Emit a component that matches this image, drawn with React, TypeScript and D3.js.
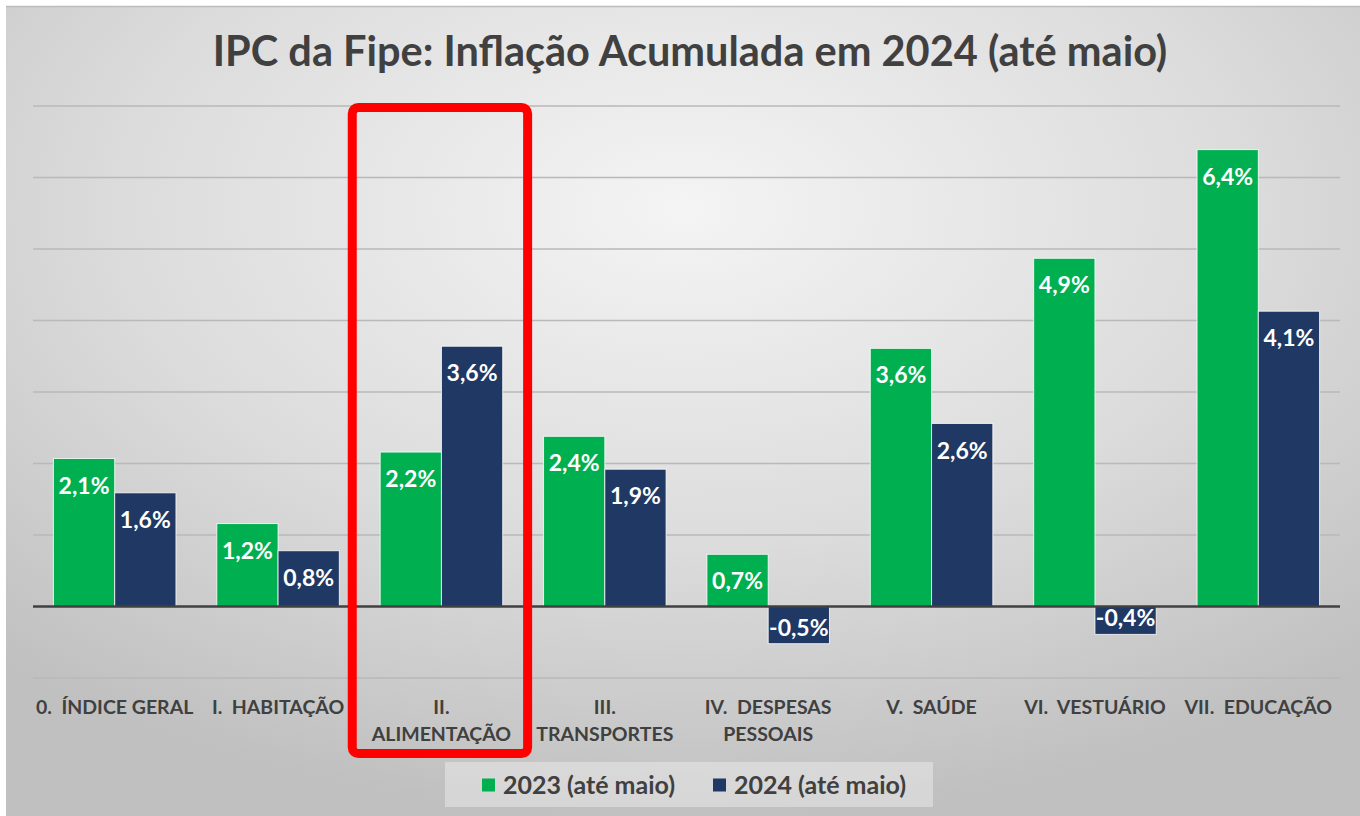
import React, { useEffect, useRef } from 'react';
import * as d3 from 'd3';

const categories = [
  '0.  ÍNDICE GERAL',
  'I.  HABITAÇÃO',
  'II.|ALIMENTAÇÃO',
  'III.|TRANSPORTES',
  'IV.  DESPESAS|PESSOAIS',
  'V.  SAÚDE',
  'VI.  VESTUÁRIO',
  'VII.  EDUCAÇÃO',
];
const seriesNames = ['2023 (até maio)', '2024 (até maio)'];
const values2023 = [2.07, 1.16, 2.16, 2.38, 0.73, 3.61, 4.87, 6.39];
const values2024 = [1.59, 0.78, 3.64, 1.92, -0.52, 2.56, -0.39, 4.13];
const yTicks = [-1, 0, 1, 2, 3, 4, 5, 6, 7];
const highlighted = 'II.|ALIMENTAÇÃO';

const colors = ['#00B050', '#1F3864'];
const FONT = 'Lato, "Open Sans", sans-serif';

const W = 1360, H = 816;

export default function App() {
  const ref = useRef(null);

  useEffect(() => {
    const svg = d3.select(ref.current);
    svg.selectAll('*').remove();

    const defs = svg.append('defs');
    const grad = defs.append('radialGradient').attr('id', 'bg')
      .attr('cx', '50%').attr('cy', '25%').attr('r', '75%');
    grad.append('stop').attr('offset', '0%').attr('stop-color', '#f4f4f4');
    grad.append('stop').attr('offset', '55%').attr('stop-color', '#dcdcdc');
    grad.append('stop').attr('offset', '100%').attr('stop-color', '#c0c0c0');

    svg.append('rect').attr('x', 0).attr('y', 0).attr('width', W).attr('height', H).attr('fill', '#fff');
    svg.append('rect').attr('x', 6).attr('y', 6).attr('width', W - 6).attr('height', H - 6)
      .attr('fill', 'url(#bg)');
    svg.append('line').attr('x1', 6).attr('x2', W).attr('y1', 6.5).attr('y2', 6.5)
      .attr('stroke', '#bdbdbd').attr('stroke-width', 1.5);

    const x = d3.scaleBand().domain(categories).range([33, 1340])
      .paddingInner(0.25).paddingOuter(0.125);
    const xs = d3.scaleBand().domain(seriesNames).range([0, x.bandwidth()]);
    const y = d3.scaleLinear().domain([-1, 7]).range([678, 106]);

    // title
    svg.append('text').text('IPC da Fipe: Inflação Acumulada em 2024 (até maio)')
      .attr('x', 690).attr('y', 66).attr('text-anchor', 'middle')
      .attr('font-family', FONT).attr('font-weight', 'bold').attr('font-size', 41.5)
      .attr('fill', '#404040');

    // gridlines
    svg.append('g').selectAll('line').data(yTicks.filter(d => d !== 0)).join('line')
      .attr('x1', 33).attr('x2', 1340)
      .attr('y1', d => y(d)).attr('y2', d => y(d))
      .attr('stroke', '#b9b9b9').attr('stroke-width', 1.5);

    // bars
    const series = [values2023, values2024];
    const groups = svg.append('g').selectAll('g').data(series).join('g')
      .attr('fill', (_, i) => colors[i]);
    groups.each(function (vals, si) {
      const g = d3.select(this);
      g.selectAll('rect').data(vals).join('rect')
        .attr('x', (_, i) => x(categories[i]) + xs(seriesNames[si]))
        .attr('y', d => y(Math.max(0, d)))
        .attr('width', xs.bandwidth())
        .attr('height', d => Math.abs(y(d) - y(0)))
        .attr('stroke', 'rgba(255,255,255,0.8)').attr('stroke-width', 1);
      g.selectAll('text').data(vals).join('text')
        .text(d => d.toFixed(1).replace('.', ',') + '%')
        .attr('x', (_, i) => x(categories[i]) + xs(seriesNames[si]) + xs.bandwidth() / 2)
        .attr('y', d => d >= 0 ? y(d) + 27 : y(d) - 16)
        .attr('dy', '0.35em')
        .attr('text-anchor', 'middle')
        .attr('font-family', FONT).attr('font-weight', 'bold').attr('font-size', 23)
        .attr('fill', '#fff');
    });

    // zero line
    svg.append('line').attr('x1', 33).attr('x2', 1340).attr('y1', y(0)).attr('y2', y(0))
      .attr('stroke', '#404040').attr('stroke-width', 2.5);

    // category labels
    const lab = svg.append('g').selectAll('text').data(categories).join('text')
      .attr('text-anchor', 'middle')
      .attr('font-family', FONT).attr('font-weight', 'bold').attr('font-size', 19.5)
      .attr('fill', '#404040')
      .attr('xml:space', 'preserve');
    lab.each(function (c) {
      const t = d3.select(this);
      const cx = x(c) + x.bandwidth() / 2;
      c.split('|').forEach((line, li) => {
        t.append('tspan').text(line).attr('x', cx).attr('y', 714 + li * 27);
      });
    });

    // highlight box
    const step = x.step();
    svg.append('rect')
      .attr('x', x(highlighted) - step * 0.125 - 7.5)
      .attr('y', 107.5)
      .attr('width', step + 12)
      .attr('height', 646)
      .attr('rx', 6)
      .attr('fill', 'none').attr('stroke', '#ff0000').attr('stroke-width', 9);

    // legend
    const lg = svg.append('g');
    lg.append('rect').attr('x', 445).attr('y', 762).attr('width', 488).attr('height', 45)
      .attr('fill', 'rgba(255,255,255,0.35)');
    const items = lg.selectAll('g').data(seriesNames).join('g')
      .attr('transform', (_, i) => `translate(${i === 0 ? 482 : 713}, 785)`);
    items.append('rect').attr('x', 0).attr('y', -6.5).attr('width', 13).attr('height', 13)
      .attr('fill', (_, i) => colors[i]);
    items.append('text').text(d => d).attr('x', 21).attr('dy', '0.35em')
      .attr('font-family', FONT).attr('font-weight', 'bold').attr('font-size', 25)
      .attr('fill', '#404040');
  }, []);

  return (
    <svg ref={ref} width={W} height={H}
      style={{ position: 'absolute', left: 0, top: 0, display: 'block' }} />
  );
}
